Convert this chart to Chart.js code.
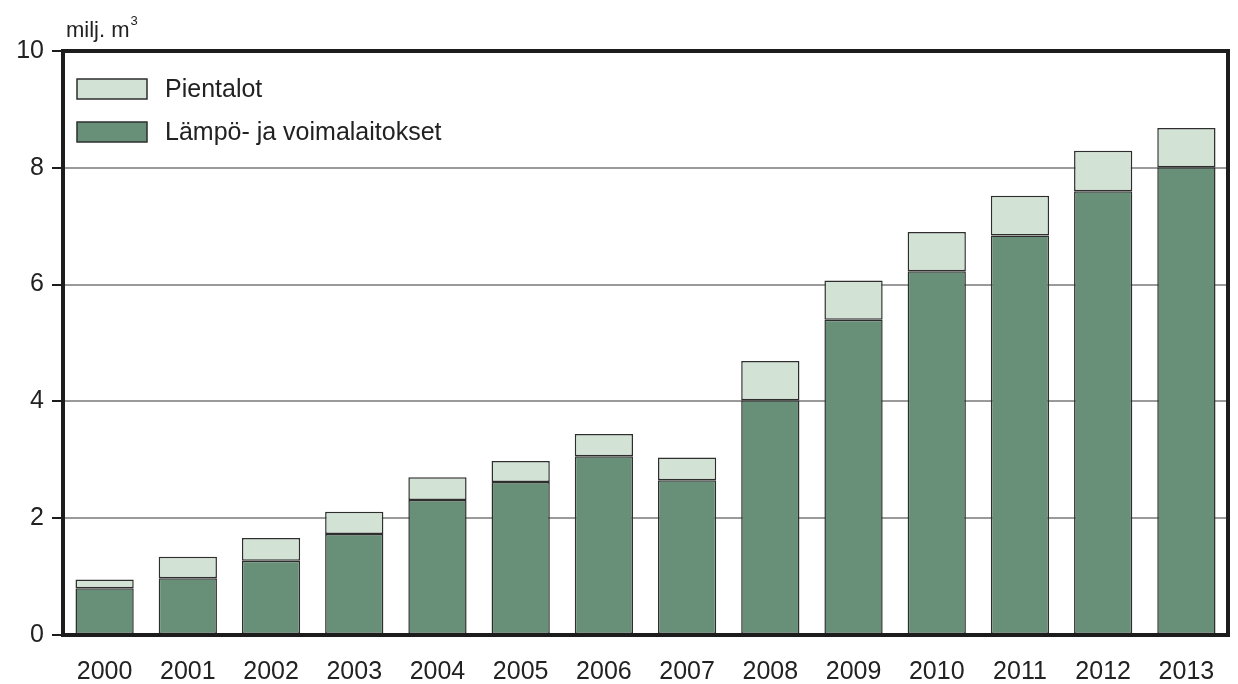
<!DOCTYPE html>
<html>
<head>
<meta charset="utf-8">
<script src="https://cdn.jsdelivr.net/npm/chart.js@4"></script>
<style>
  html, body { margin: 0; padding: 0; background: #fff; }
  #wrap { width: 1238px; height: 684px; }
</style>
</head>
<body>
<div id="wrap"><canvas id="hakeChart" width="1238" height="684"></canvas></div>
<script>
/* ── Data ── */
const YEARS = ['2000', '2001', '2002', '2003', '2004', '2005', '2006',
               '2007', '2008', '2009', '2010', '2011', '2012', '2013'];
const LAMPO_VOIMA = [0.80, 0.97, 1.27, 1.73, 2.31, 2.62, 3.06, 2.65, 4.02, 5.40, 6.23, 6.84, 7.60, 8.01];
const PIENTALOT   = [0.15, 0.37, 0.39, 0.38, 0.39, 0.36, 0.38, 0.39, 0.67, 0.67, 0.67, 0.68, 0.69, 0.67];
const Y_TICKS = [0, 2, 4, 6, 8, 10];

const FONT = "'Liberation Sans', Arial, sans-serif";
const INK = '#222';
const DARK_GREEN = '#688f77';
const LIGHT_GREEN = '#d2e2d5';
const BAR_EDGE = '#2e2e2e';

/* ── Frame, unit label and legend ── */
const decorations = {
  id: 'decorations',
  afterDatasetsDraw(chart) {
    const { ctx, chartArea: a } = chart;
    ctx.save();

    // heavy frame round the plot
    ctx.strokeStyle = '#1c1c1c';
    ctx.lineWidth = 4;
    ctx.strokeRect(a.left, a.top, a.right - a.left, a.bottom - a.top);

    // unit label
    ctx.fillStyle = INK;
    ctx.textBaseline = 'alphabetic';
    ctx.textAlign = 'left';
    ctx.font = `22px ${FONT}`;
    ctx.fillText('milj. m', a.left + 3, 37);
    const w = ctx.measureText('milj. m').width;
    ctx.font = `13px ${FONT}`;
    ctx.fillText('3', a.left + 4 + w, 25);

    // legend, reversed so the top segment is listed first
    const items = chart.data.datasets.slice().reverse();
    items.forEach((ds, i) => {
      const y = a.top + 28 + i * 43;
      ctx.fillStyle = ds.backgroundColor;
      ctx.fillRect(a.left + 14, y, 70, 20);
      ctx.strokeStyle = BAR_EDGE;
      ctx.lineWidth = 1.5;
      ctx.strokeRect(a.left + 14, y, 70, 20);
      ctx.fillStyle = INK;
      ctx.font = `25px ${FONT}`;
      ctx.textBaseline = 'middle';
      ctx.fillText(ds.label, a.left + 102, y + 11);
    });
    ctx.restore();
  }
};

new Chart(document.getElementById('hakeChart'), {
  type: 'bar',
  data: {
    labels: YEARS,
    datasets: [
      {
        label: 'Lämpö- ja voimalaitokset',
        data: LAMPO_VOIMA,
        backgroundColor: DARK_GREEN,
        borderColor: BAR_EDGE,
        borderWidth: 1.5,
        borderSkipped: false,
        barPercentage: 0.7,
        categoryPercentage: 1
      },
      {
        label: 'Pientalot',
        data: PIENTALOT,
        backgroundColor: LIGHT_GREEN,
        borderColor: BAR_EDGE,
        borderWidth: 1.5,
        borderSkipped: false,
        barPercentage: 0.7,
        categoryPercentage: 1
      }
    ]
  },
  options: {
    responsive: false,
    animation: false,
    layout: { padding: { top: 51, right: 10, left: 0, bottom: 0 } },
    plugins: {
      legend: { display: false },
      tooltip: { enabled: false }
    },
    scales: {
      x: {
        stacked: true,
        grid: { display: false, drawTicks: false },
        border: { display: false },
        ticks: {
          color: INK,
          padding: 22,
          font: { family: FONT, size: 25 }
        },
        afterFit(scale) { scale.height = 49; }
      },
      y: {
        stacked: true,
        min: 0,
        max: 10,
        afterBuildTicks(scale) { scale.ticks = Y_TICKS.map(v => ({ value: v })); },
        grid: {
          color: '#9a9a9a',
          lineWidth: 2,
          tickColor: '#1c1c1c',
          tickLength: 11
        },
        border: { display: false },
        ticks: {
          color: INK,
          padding: 8,
          font: { family: FONT, size: 25 }
        },
        afterFit(scale) { scale.width = 63; }
      }
    }
  },
  plugins: [decorations]
});
</script>
</body>
</html>
